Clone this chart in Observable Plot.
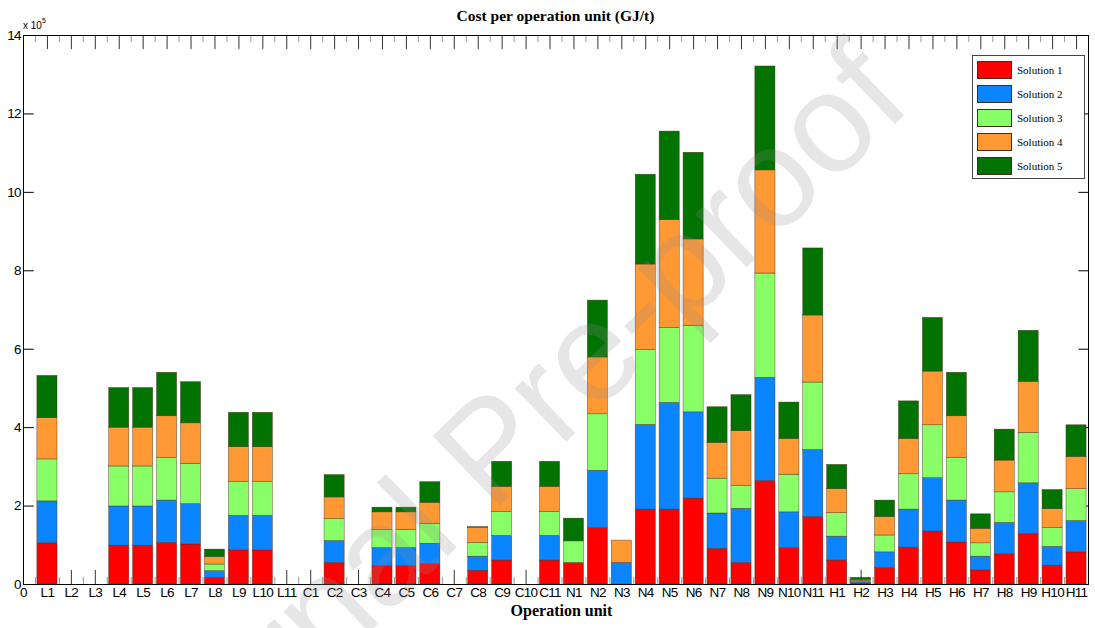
<!DOCTYPE html>
<html>
<head>
<meta charset="utf-8">
<script src="https://cdn.jsdelivr.net/npm/d3@7"></script>
<script src="https://cdn.jsdelivr.net/npm/@observablehq/plot@0.6"></script>
<style>
  html, body { margin: 0; padding: 0; background: #fff; }
  #wrap { position: relative; width: 1095px; height: 628px; overflow: hidden; background: #fff; }
  #wrap svg { position: absolute; left: 0; top: 0; }
  #wrap svg g[aria-label="x-axis tick label"] text { letter-spacing: -0.7px; }
  #wrap svg g[aria-label="y-axis tick label"] text { letter-spacing: -0.9px; }
  .title { position: absolute; left: 23px; width: 1065px; top: 6px; text-align: center;
           font-family: "Liberation Serif", "Times New Roman", serif; font-weight: bold; font-size: 15.5px; line-height: 20px; color: #000; }
  .xlabel { position: absolute; left: 29px; width: 1065px; top: 601px; text-align: center;
           font-family: "Liberation Serif", "Times New Roman", serif; font-weight: bold; font-size: 16px; line-height: 20px; color: #000; }
  .exp { position: absolute; left: 23px; top: 17px; font-family: "Liberation Sans", Arial, sans-serif; font-size: 10px; line-height: 12px; color: #000; }
  .exp sup { font-size: 7px; position: relative; top: -2px; }
  .legend { position: absolute; left: 972px; top: 55px; width: 113px; height: 124px; border: 1px solid #444; background: #fff; box-sizing: border-box; }
  .legend .item { position: absolute; left: 4px; height: 19px; }
  .legend .sw { position: absolute; left: 0; top: 0; width: 35px; height: 18px; box-sizing: border-box; border: 0.6px solid #4a2a1a; }
  .legend .lab { position: absolute; left: 40px; top: 1px; white-space: nowrap;
           font-family: "Liberation Serif", "Times New Roman", serif; font-size: 11px; line-height: 16px; color: #000; }
  .wm { position: absolute; left: 489px; top: 449px; transform: translate(-50%, -50%) rotate(-44deg);
        font-family: "Liberation Sans", Arial, sans-serif; font-size: 141px; line-height: 1; white-space: nowrap;
        color: rgba(140,140,140,0.22); pointer-events: none; }
</style>
</head>
<body>
<div id="wrap"></div>
<script>
// ---- data (values in units of 10^5 GJ/t) ----
const units = ["L1","L2","L3","L4","L5","L6","L7","L8","L9","L10","L11",
               "C1","C2","C3","C4","C5","C6","C7","C8","C9","C10","C11",
               "N1","N2","N3","N4","N5","N6","N7","N8","N9","N10","N11",
               "H1","H2","H3","H4","H5","H6","H7","H8","H9","H10","H11"];
const solutions = ["Solution 1","Solution 2","Solution 3","Solution 4","Solution 5"];
const colors = ["#ff0000","#0a84ff","#88ff66","#ff9933","#007300"];

const solution1 = [1.05,0,0,0.99,0.99,1.06,1.02,0.17,0.87,0.87,0,
                   0,0.55,0,0.47,0.47,0.52,0,0.35,0.61,0,0.61,
                   0.55,1.44,0,1.91,1.91,2.19,0.91,0.55,2.64,0.93,1.72,
                   0.61,0.03,0.42,0.94,1.35,1.07,0.36,0.77,1.29,0.48,0.82];
const solution2 = [1.07,0,0,1.00,1.00,1.08,1.03,0.17,0.88,0.88,0,
                   0,0.56,0,0.46,0.46,0.52,0,0.36,0.63,0,0.63,
                   0,1.46,0.55,2.16,2.72,2.20,0.90,1.38,2.63,0.91,1.71,
                   0.61,0.03,0.40,0.97,1.36,1.07,0.35,0.80,1.29,0.48,0.80];
const solution3 = [1.07,0,0,1.02,1.02,1.08,1.03,0.17,0.86,0.86,0,
                   0,0.56,0,0.46,0.46,0.51,0,0.35,0.61,0,0.61,
                   0.55,1.44,0,1.91,1.91,2.21,0.89,0.58,2.66,0.96,1.72,
                   0.60,0.03,0.43,0.90,1.35,1.08,0.34,0.78,1.29,0.48,0.81];
const solution4 = [1.05,0,0,0.99,0.99,1.07,1.03,0.19,0.89,0.89,0,
                   0,0.55,0,0.45,0.45,0.53,0,0.39,0.64,0,0.64,
                   0,1.45,0.57,2.18,2.75,2.20,0.91,1.40,2.63,0.91,1.71,
                   0.61,0.03,0.47,0.90,1.37,1.07,0.37,0.81,1.30,0.48,0.82];
const solution5 = [1.08,0,0,1.01,1.01,1.11,1.05,0.19,0.88,0.88,0,
                   0,0.57,0,0.12,0.12,0.53,0,0.01,0.64,0,0.64,
                   0.58,1.45,0,2.29,2.26,2.21,0.91,0.92,2.65,0.93,1.71,
                   0.62,0.05,0.42,0.96,1.37,1.11,0.37,0.79,1.30,0.49,0.81];
const yTicks = [0,2,4,6,8,10,12,14];
const xTickLabels = ["0", ...units];

// ---- table for the library ----
const series = [solution1, solution2, solution3, solution4, solution5];
const rows = [];
units.forEach((u, i) => {
  let base = 0;
  series.forEach((arr, k) => {
    const v = arr[i];
    if (v > 0) rows.push({unit: u, pos: i + 1, solution: solutions[k], y1: base, y2: base + v});
    base += v;
  });
});
const majorX = d3.range(1, units.length + 1);
const minorX = d3.range(0, units.length).map(i => i + 0.5);

const chart = Plot.plot({
  width: 1095, height: 628,
  marginLeft: 23, marginRight: 7, marginTop: 35, marginBottom: 44,
  style: {fontFamily: '"Liberation Sans",Arial,sans-serif', fontSize: "13px", color: "#000", background: "transparent", overflow: "visible"},
  x: {domain: [0, units.length + 0.5], axis: null},
  y: {domain: [0, 14], axis: null},
  color: {domain: solutions, range: colors},
  marks: [
    Plot.ruleX(minorX, {x: d => d, y1: 0, y2: 0.18, stroke: "#999", strokeWidth: 1}),
    Plot.ruleX(majorX, {x: d => d, y1: 0, y2: 0.36, stroke: "#333", strokeWidth: 1}),
    Plot.ruleX(minorX, {x: d => d, y1: 14, y2: 13.82, stroke: "#999", strokeWidth: 1}),
    Plot.ruleX(majorX, {x: d => d, y1: 14, y2: 13.64, stroke: "#333", strokeWidth: 1}),
    Plot.ruleY(yTicks, {y: d => d, x1: 0, x2: 0.45, stroke: "#000"}),
    Plot.ruleY(yTicks, {y: d => d, x1: units.length + 0.5, x2: units.length + 0.1, stroke: "#000"}),
    Plot.rect(rows, {
      x1: d => d.pos - 0.42, x2: d => d.pos + 0.42,
      y1: "y1", y2: "y2", fill: "solution",
      stroke: "#4a2a1a", strokeWidth: 0.5, strokeOpacity: 0.8
    }),
    Plot.frame({stroke: "#000"}),
    Plot.axisY({ticks: yTicks, tickSize: 0, tickPadding: 3, label: null, fontSize: 13.5}),
    Plot.axisX({ticks: d3.range(0, units.length + 1), tickSize: 0, tickPadding: 3,
                tickFormat: i => xTickLabels[i], label: null, fontSize: 13.5})
  ]
});

const wrap = document.getElementById("wrap");
wrap.appendChild(chart);

function addDiv(cls, html) {
  const d = document.createElement("div");
  d.className = cls;
  d.innerHTML = html;
  wrap.appendChild(d);
  return d;
}
addDiv("title", "Cost per operation unit (GJ/t)");
addDiv("exp", "x 10<sup>5</sup>");
addDiv("xlabel", "Operation unit");

const legend = addDiv("legend", "");
solutions.forEach((s, k) => {
  const it = document.createElement("div");
  it.className = "item";
  it.style.top = (5 + k * 24) + "px";
  it.innerHTML = `<div class="sw" style="background:${colors[k]}"></div><div class="lab">${s}</div>`;
  legend.appendChild(it);
});

addDiv("wm", "Journal Pre-proof");
</script>
</body>
</html>
